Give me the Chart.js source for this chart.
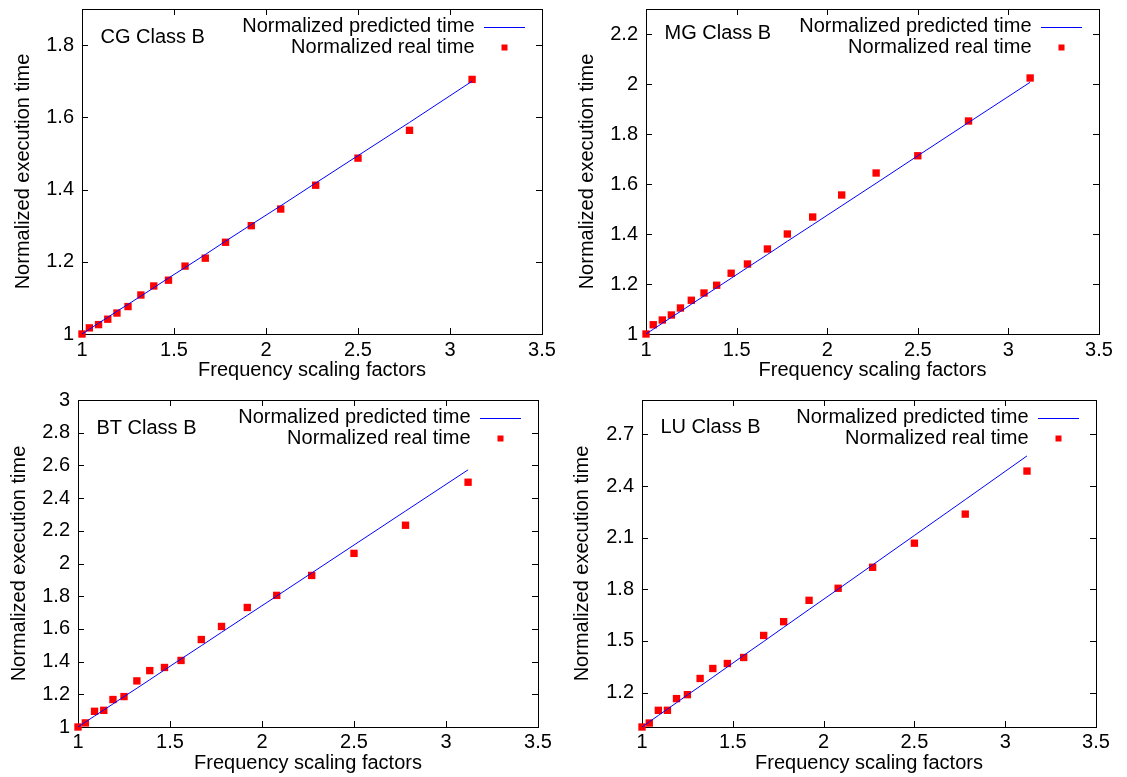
<!DOCTYPE html>
<html lang="en">
<head>
<meta charset="UTF-8">
<title>Normalized execution time vs frequency scaling factors</title>
<script src="https://cdn.jsdelivr.net/npm/chart.js"></script>
<style>
  body { margin: 0; width: 1127px; height: 777px; background: #fff; position: relative; overflow: hidden; }
  .panel { position: absolute; }
</style>
</head>
<body>
<div class="panel" style="left:0;top:0;width:563px;height:388px"><canvas id="cg"></canvas></div>
<div class="panel" style="left:563px;top:0;width:564px;height:388px"><canvas id="mg"></canvas></div>
<div class="panel" style="left:0;top:388px;width:563px;height:389px"><canvas id="bt"></canvas></div>
<div class="panel" style="left:563px;top:388px;width:564px;height:389px"><canvas id="lu"></canvas></div>

<script>
// frequency scaling factors (same for every benchmark)
const scalingFactors = [1.0, 1.04, 1.09, 1.14, 1.19, 1.25, 1.32, 1.39, 1.47, 1.56, 1.67, 1.78, 1.92, 2.08, 2.27, 2.5, 2.78, 3.12];
const xTicks = [1, 1.5, 2, 2.5, 3, 3.5];

const cgPredicted = [1.0, 1.013, 1.030, 1.046, 1.063, 1.082, 1.105, 1.128, 1.155, 1.184, 1.220, 1.257, 1.303, 1.355, 1.418, 1.494, 1.586, 1.700];
const cgReal      = [1.0, 1.017, 1.026, 1.041, 1.058, 1.076, 1.108, 1.133, 1.149, 1.188, 1.210, 1.254, 1.300, 1.346, 1.412, 1.487, 1.564, 1.705];
const cgTicks = [1, 1.2, 1.4, 1.6, 1.8];

const mgPredicted = [1.0, 1.019, 1.043, 1.067, 1.090, 1.119, 1.152, 1.185, 1.223, 1.266, 1.318, 1.371, 1.437, 1.513, 1.603, 1.713, 1.846, 2.007];
const mgReal      = [1.0, 1.037, 1.056, 1.076, 1.104, 1.135, 1.164, 1.195, 1.243, 1.280, 1.340, 1.400, 1.468, 1.556, 1.644, 1.713, 1.852, 2.024];
const mgTicks = [1, 1.2, 1.4, 1.6, 1.8, 2, 2.2];

const btPredicted = [1.0, 1.030, 1.067, 1.104, 1.141, 1.186, 1.237, 1.289, 1.349, 1.416, 1.497, 1.579, 1.683, 1.801, 1.942, 2.113, 2.321, 2.573];
const btReal      = [1.0, 1.025, 1.096, 1.102, 1.168, 1.186, 1.282, 1.345, 1.364, 1.407, 1.535, 1.615, 1.731, 1.805, 1.927, 2.062, 2.234, 2.497];
const btTicks = [1, 1.2, 1.4, 1.6, 1.8, 2, 2.2, 2.4, 2.6, 2.8, 3];

const luPredicted = [1.0, 1.030, 1.067, 1.104, 1.141, 1.186, 1.237, 1.289, 1.349, 1.416, 1.497, 1.579, 1.683, 1.801, 1.942, 2.113, 2.321, 2.575];
const luReal      = [1.0, 1.023, 1.097, 1.097, 1.165, 1.188, 1.282, 1.340, 1.369, 1.404, 1.532, 1.612, 1.736, 1.806, 1.928, 2.068, 2.237, 2.487];
const luTicks = [1.2, 1.5, 1.8, 2.1, 2.4, 2.7];

const FONT = { family: "'Liberation Sans', Arial, sans-serif", size: 20 };

const panels = [
  { id: 'cg', name: 'CG Class B', predicted: cgPredicted, real: cgReal, yMin: 1, yMax: 1.9, yTicks: cgTicks,
    padTop: 9, padRight: 21, yWidth: 82, xHeight: 54, yTitlePad: 11, xTitlePad: 6, xTickPad: 4, labelY: 28 },
  { id: 'mg', name: 'MG Class B', predicted: mgPredicted, real: mgReal, yMin: 1, yMax: 2.3, yTicks: mgTicks,
    padTop: 9, padRight: 28, yWidth: 83, xHeight: 54, yTitlePad: 12, xTitlePad: 6, xTickPad: 4, labelY: 24 },
  { id: 'bt', name: 'BT Class B', predicted: btPredicted, real: btReal, yMin: 1, yMax: 3, yTicks: btTicks,
    padTop: 12, padRight: 25, yWidth: 78, xHeight: 50, yTitlePad: 7, xTitlePad: 2, xTickPad: 3, labelY: 28 },
  { id: 'lu', name: 'LU Class B', predicted: luPredicted, real: luReal, yMin: 1, yMax: 2.9, yTicks: luTicks,
    padTop: 12, padRight: 31, yWidth: 79, xHeight: 50, yTitlePad: 7, xTitlePad: 2, xTickPad: 3, labelY: 27 }
];

function fmt(v) { return String(Number(v.toFixed(2))); }

// gnuplot-like frame: border, inward mirrored ticks, key and label
const gnuplotFrame = {
  id: 'gnuplotFrame',
  beforeDatasetsDraw(chart, args, opts) {
    const { ctx, chartArea: a, scales } = chart;
    ctx.save();
    ctx.strokeStyle = '#000';
    ctx.lineWidth = 1;
    ctx.strokeRect(Math.round(a.left) + 0.5, Math.round(a.top) + 0.5,
                   Math.round(a.right - a.left), Math.round(a.bottom - a.top));
    ctx.beginPath();
    xTicks.forEach(t => {
      const px = Math.round(scales.x.getPixelForValue(t)) + 0.5;
      ctx.moveTo(px, a.bottom); ctx.lineTo(px, a.bottom - 6);
      ctx.moveTo(px, a.top); ctx.lineTo(px, a.top + 6);
    });
    opts.yTicks.forEach(t => {
      const py = Math.round(scales.y.getPixelForValue(t)) + 0.5;
      ctx.moveTo(a.left, py); ctx.lineTo(a.left + 6, py);
      ctx.moveTo(a.right, py); ctx.lineTo(a.right - 6, py);
    });
    ctx.stroke();
    ctx.restore();
  },
  afterDraw(chart, args, opts) {
    const { ctx, chartArea: a } = chart;
    const ds = chart.data.datasets;
    ctx.save();
    ctx.font = FONT.size + 'px ' + FONT.family;
    ctx.fillStyle = '#000';
    ctx.textBaseline = 'middle';
    // benchmark label
    ctx.textAlign = 'left';
    ctx.fillText(opts.name, a.left + 18.5, a.top + opts.labelY);
    // key
    ctx.textAlign = 'right';
    const tx = a.right - 67.5;
    const r1 = a.top + 17.5, r2 = a.top + 38.5;
    ctx.fillText(ds[0].label, tx, r1);
    ctx.fillText(ds[1].label, tx, r2);
    ctx.strokeStyle = ds[0].borderColor;
    ctx.lineWidth = 1;
    ctx.beginPath();
    ctx.moveTo(a.right - 58, Math.round(r1) + 0.5);
    ctx.lineTo(a.right - 17, Math.round(r1) + 0.5);
    ctx.stroke();
    ctx.fillStyle = ds[1].backgroundColor;
    ctx.fillRect(a.right - 40.5, r2 - 3, 6, 6);
    ctx.restore();
  }
};

panels.forEach(p => {
  const predictedPts = scalingFactors.map((x, i) => ({ x: x, y: p.predicted[i] }));
  const realPts = scalingFactors.map((x, i) => ({ x: x, y: p.real[i] }));

  new Chart(document.getElementById(p.id), {
    type: 'scatter',
    data: {
      datasets: [
        {
          label: 'Normalized predicted time',
          data: predictedPts,
          showLine: true,
          borderColor: '#0000ff',
          borderWidth: 1,
          pointRadius: 0,
          fill: false,
          clip: false
        },
        {
          label: 'Normalized real time',
          data: realPts,
          pointStyle: 'rect',
          pointRadius: 5.2,
          pointBorderWidth: 0,
          backgroundColor: '#ff0000',
          borderColor: '#ff0000',
          clip: false
        }
      ]
    },
    options: {
      responsive: true,
      maintainAspectRatio: false,
      animation: false,
      layout: { padding: { left: 0, top: p.padTop, right: p.padRight, bottom: 0 } },
      plugins: {
        legend: { display: false },
        tooltip: { enabled: false },
        gnuplotFrame: { name: p.name, yTicks: p.yTicks, labelY: p.labelY }
      },
      scales: {
        x: {
          type: 'linear',
          min: 1,
          max: 3.5,
          afterBuildTicks: s => { s.ticks = xTicks.map(v => ({ value: v })); },
          afterFit: s => { s.height = p.xHeight; s.paddingLeft = 0; s.paddingRight = 0; },
          grid: { display: false, drawTicks: false },
          border: { display: false },
          ticks: { color: '#000', font: FONT, padding: p.xTickPad, maxRotation: 0, autoSkip: false, callback: v => fmt(v) },
          title: { display: true, text: 'Frequency scaling factors', color: '#000', font: FONT,
                   padding: { top: 0, bottom: p.xTitlePad } }
        },
        y: {
          type: 'linear',
          min: p.yMin,
          max: p.yMax,
          afterBuildTicks: s => { s.ticks = p.yTicks.map(v => ({ value: v })); },
          afterFit: s => { s.width = p.yWidth; s.paddingTop = 0; s.paddingBottom = 0; },
          grid: { display: false, drawTicks: false },
          border: { display: false },
          ticks: { color: '#000', font: FONT, padding: 8, autoSkip: false, callback: v => fmt(v) },
          title: { display: true, text: 'Normalized execution time', color: '#000', font: FONT,
                   padding: { top: p.yTitlePad, bottom: 0 } }
        }
      }
    },
    plugins: [gnuplotFrame]
  });
});
</script>
</body>
</html>
